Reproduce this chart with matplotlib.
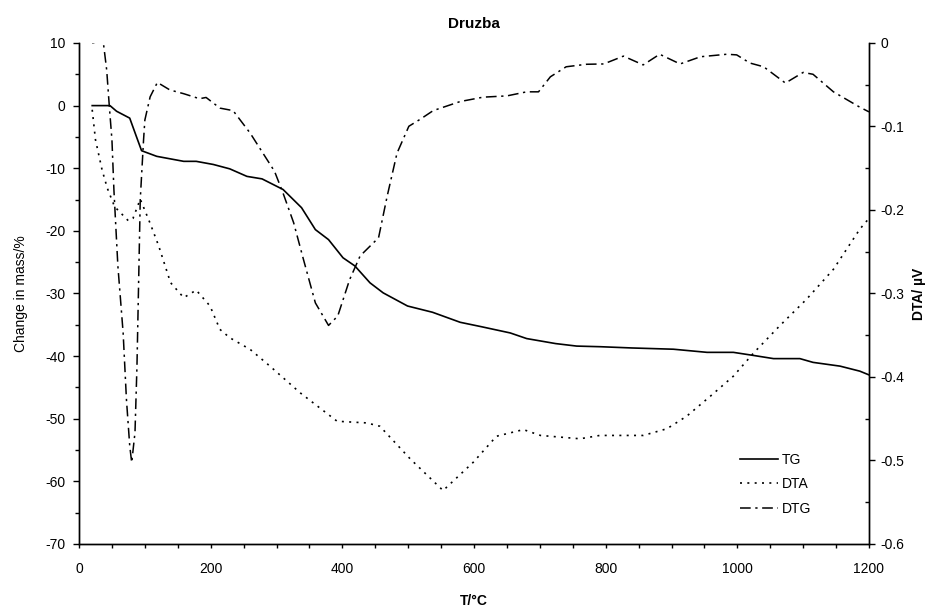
import matplotlib
matplotlib.use("Agg")
import matplotlib.pyplot as plt
from matplotlib.ticker import MultipleLocator, FuncFormatter

plt.rcParams["font.family"] = ["Liberation Sans", "DejaVu Sans"]
plt.rcParams["axes.unicode_minus"] = False

# TG, change in mass / %
tg_t = [20, 47, 57, 77, 87, 95, 118, 159, 178, 204, 229, 255, 278, 310, 338, 359, 379,
        401, 419, 442, 462, 499, 537, 579, 611, 655, 680, 724, 756, 792, 840, 903, 954,
        994, 1025, 1055, 1095, 1115, 1156, 1186, 1200]
tg_v = [0, 0, -0.9, -2.0, -4.9, -7.2, -8.1, -8.9, -8.9, -9.4, -10.1, -11.3, -11.7, -13.4,
        -16.3, -19.8, -21.4, -24.3, -25.6, -28.3, -29.9, -32.0, -33.0, -34.6, -35.3, -36.3,
        -37.2, -38.0, -38.4, -38.5, -38.7, -38.9, -39.4, -39.4, -39.9, -40.4, -40.4, -41.0,
        -41.6, -42.4, -43.0]

# DTA / uV (right axis)
dta_t = [20, 25, 35, 43, 54, 75, 82, 93, 108, 121, 139, 159, 178, 199, 214, 229, 260,
         290, 336, 392, 437, 457, 503, 553, 599, 634, 675, 701, 761, 791, 857, 893, 923,
         959, 994, 1025, 1064, 1105, 1146, 1186, 1200]
dta_v = [-0.08, -0.116, -0.152, -0.174, -0.196, -0.213, -0.21, -0.187, -0.216, -0.243,
         -0.287, -0.305, -0.296, -0.315, -0.343, -0.353, -0.367, -0.387, -0.419, -0.453,
         -0.455, -0.459, -0.498, -0.536, -0.502, -0.471, -0.463, -0.47, -0.474, -0.47,
         -0.47, -0.462, -0.447, -0.423, -0.399, -0.371, -0.339, -0.307, -0.271, -0.223,
         -0.21]

# DTG (drawn against the left scale)
dtg_t = [20, 35, 37, 42, 46, 50, 53, 59, 67, 72, 77, 80, 85, 88, 90, 92, 93, 98, 100,
         108, 119, 138, 159, 183, 193, 214, 234, 260, 280, 297, 310, 326, 341, 359, 379,
         393, 411, 427, 455, 468, 483, 501, 518, 538, 579, 614, 650, 680, 698, 716, 740,
         771, 797, 827, 857, 882, 913, 944, 984, 999, 1019, 1040, 1073, 1100, 1115, 1146,
         1186, 1200]
dtg_v = [10, 10.4, 10, 5.7, -0.1, -5.5, -13.5, -25.6, -36.3, -46.9, -54.3, -57, -52.2,
         -41.6, -31, -20.3, -15, -5.5, -2.3, 1.4, 3.7, 2.5, 1.9, 1.1, 1.3, -0.4, -0.8,
         -4.4, -7.7, -10.5, -14, -18.7, -24.6, -31.5, -35.1, -33.6, -27.8, -24, -21.1,
         -14.5, -7.6, -3.3, -2.2, -0.8, 0.65, 1.35, 1.55, 2.2, 2.2, 4.6, 6.2, 6.6, 6.65,
         7.9, 6.5, 8.2, 6.65, 7.8, 8.2, 8.1, 6.8, 6.2, 3.6, 5.3, 5.0, 2.2, -0.25, -1.0]

fig = plt.figure(figsize=(9.32, 6.07), dpi=100)
ax = fig.add_axes([0.0848, 0.1038, 0.8476, 0.8254])
ax2 = ax.twinx()

l1, = ax.plot(tg_t, tg_v, color="black", linewidth=1.2, label="TG")
l3, = ax.plot(dtg_t, dtg_v, color="black", linewidth=1.1, dashes=(7, 3, 1.5, 3), label="DTG")
l2, = ax2.plot(dta_t, dta_v, color="black", linewidth=1.2, dashes=(1.2, 3.2), label="DTA")

ax.set_xlim(0, 1200)
ax.set_ylim(-70, 10)
ax2.set_ylim(-0.6, 0)

ax.xaxis.set_major_locator(MultipleLocator(200))
ax.xaxis.set_minor_locator(MultipleLocator(50))
ax.yaxis.set_major_locator(MultipleLocator(10))
ax.yaxis.set_minor_locator(MultipleLocator(5))
ax2.yaxis.set_major_locator(MultipleLocator(0.1))
ax2.yaxis.set_minor_locator(MultipleLocator(0.05))
ax2.yaxis.set_major_formatter(FuncFormatter(lambda v, p: "0" if abs(v) < 1e-9 else f"{v:.1f}"))

for a in (ax, ax2):
    a.spines["top"].set_visible(False)
    for s in a.spines.values():
        s.set_linewidth(1.0)
ax.tick_params(axis="x", which="both", direction="out", length=3, width=1, labelsize=10, pad=10)
ax.tick_params(axis="y", which="major", direction="out", length=4, width=1, labelsize=10, pad=6)
ax.tick_params(axis="y", which="minor", direction="out", length=3, width=1)
ax2.tick_params(axis="y", which="major", direction="out", length=4, width=1, labelsize=10, pad=4)
ax2.tick_params(axis="y", which="minor", direction="in", length=3, width=1)

ax.set_xlabel("T/°C", fontsize=10, fontweight="bold", labelpad=13)
ax.set_ylabel("Change in mass/%", fontsize=10, labelpad=12)
ax2.set_ylabel("DTA/ µV", fontsize=10, fontweight="bold", labelpad=6)
ax.set_title("Druzba", fontsize=11, fontweight="bold", pad=11)

ax.legend(handles=[l1, l2, l3], loc="upper left", bbox_to_anchor=(0.837, 0.182),
          frameon=False, fontsize=10, handlelength=2.7, handletextpad=0.3,
          labelspacing=0.75, borderpad=0, borderaxespad=0)

fig.savefig("out.png", dpi=100)
